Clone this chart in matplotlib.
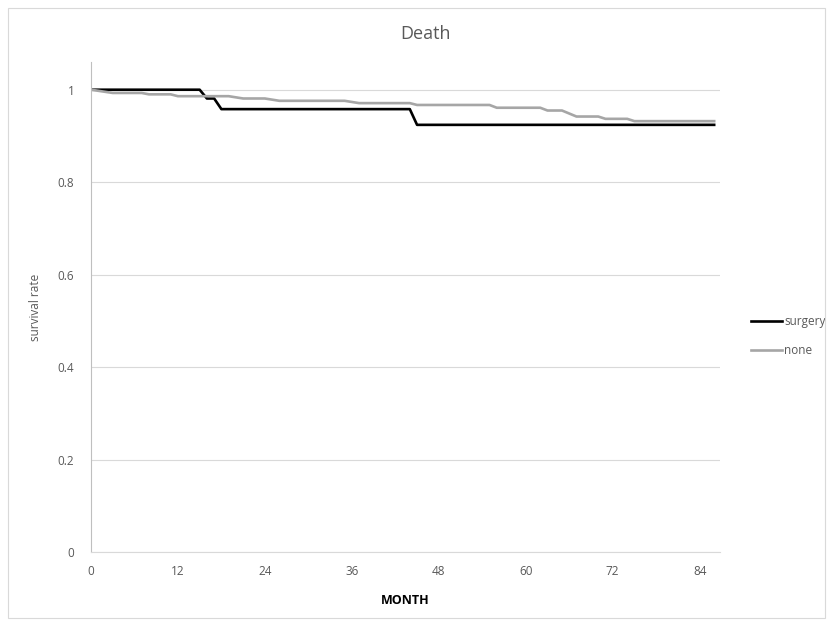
import matplotlib.pyplot as plt
from matplotlib.patches import Rectangle

# survival curves (month, survival rate)
surgery_month = [0, 15, 16, 17, 18, 44, 45, 86]
surgery_rate = [1.0, 1.0, 0.981, 0.981, 0.958, 0.958, 0.924, 0.924]

none_month = [0, 3, 7, 8, 11, 12, 19, 21, 24, 26, 35, 37, 44, 45, 55, 56, 62, 63, 65, 67, 70, 71, 74, 75, 86]
none_rate = [1.0, 0.993, 0.993, 0.990, 0.990, 0.986, 0.986, 0.981, 0.981, 0.976, 0.976, 0.971, 0.971, 0.967,
             0.967, 0.961, 0.961, 0.955, 0.955, 0.942, 0.942, 0.937, 0.937, 0.932, 0.932]

x_ticks = [0, 12, 24, 36, 48, 60, 72, 84]
y_ticks = [0, 0.2, 0.4, 0.6, 0.8, 1]
y_labels = ["0", "0.2", "0.4", "0.6", "0.8", "1"]

plt.rcParams['font.family'] = ['Open Sans', 'DejaVu Sans']
txt = '#595959'

fig = plt.figure(figsize=(8.33, 6.21), dpi=100)
# thin frame round the whole chart
fig.patches.append(Rectangle((8 / 833, 3 / 621), 817 / 833, 610 / 621, transform=fig.transFigure,
                             fill=False, edgecolor='#d9d9d9', linewidth=0.8))

ax = fig.add_axes([0.1092, 0.1111, 0.7551, 0.7891])
ax.plot(surgery_month, surgery_rate, color='black', linewidth=1.9, label='surgery')
ax.plot(none_month, none_rate, color='#a6a6a6', linewidth=1.9, label='none')

ax.set_xlim(0, 86.8)
ax.set_ylim(0, 1.06)
ax.set_xticks(x_ticks)
ax.set_yticks(y_ticks)
ax.set_yticklabels(y_labels)
ax.tick_params(length=0, labelsize=8.5, colors=txt, pad=9)
ax.tick_params(axis='y', pad=12)
ax.grid(axis='y', color='#d9d9d9', linewidth=0.8)
ax.set_axisbelow(True)
for s in ['top', 'right']:
    ax.spines[s].set_visible(False)
ax.spines['left'].set_color('#bfbfbf')
ax.spines['bottom'].set_color('#d9d9d9')

fig.text(425 / 833, 1 - 34 / 621, 'Death', fontsize=13, color=txt, ha='center', va='center')
ax.set_xlabel('MONTH', fontsize=9, fontweight='bold', color='black', labelpad=12)
ax.set_ylabel('survival rate', fontsize=8.5, color=txt, labelpad=11)

ax.legend(loc='center left', bbox_to_anchor=(1.033, 0.44), frameon=False, fontsize=8.5,
          handlelength=2.6, handletextpad=0.2, labelspacing=1.35, labelcolor=txt)

fig.savefig('out.png', dpi=100)
